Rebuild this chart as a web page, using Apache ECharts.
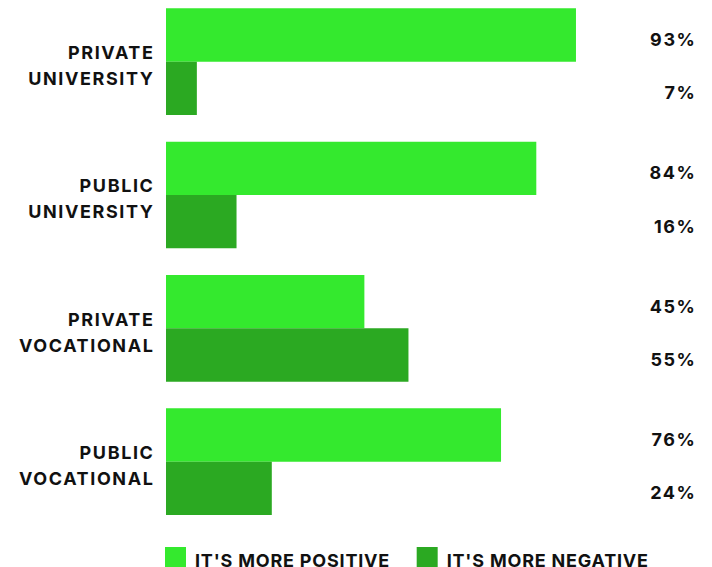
<!DOCTYPE html>
<html><head><meta charset="utf-8">
<script src="https://cdn.jsdelivr.net/npm/echarts@6/dist/echarts.min.js"></script>
<style>
html,body{margin:0;padding:0;background:#fff;overflow:hidden}
#c{width:712px;height:572px;margin-top:-5px}
#c text{letter-spacing:1.6px}
#c text[style*="sans-serif"], #c text[font-family*="sans-serif"]{letter-spacing:0.8px}
</style>
</head><body><div id="c"></div>
<script>
const categories = ['PRIVATE\nUNIVERSITY', 'PUBLIC\nUNIVERSITY', 'PRIVATE\nVOCATIONAL', 'PUBLIC\nVOCATIONAL'];
const positive = [93, 84, 45, 76];
const negative = [7, 16, 55, 24];
const seriesNames = ["IT'S MORE POSITIVE", "IT'S MORE NEGATIVE"];
const AXIS_MAX = 120;

const font = 'Inter';
const chart = echarts.init(document.getElementById('c'), null, { renderer: 'svg' });
function padSeries(vals, stack) {
  return {
    type: 'bar', stack: stack, silent: true,
    data: vals.map(v => ({ value: AXIS_MAX - v, raw: v })),
    itemStyle: { color: 'transparent' },
    label: {
      show: true, position: 'insideRight', distance: -1.5, offset: [0, 4.5],
      formatter: p => p.data.raw + '%',
      color: '#111', fontFamily: font, fontWeight: 700, fontSize: 18
    },
    barGap: '0%', barCategoryGap: '20%'
  };
}
chart.setOption({
  animation: false,
  grid: { left: 166, right: 17, top: 0, height: 533.33, containLabel: false },
  xAxis: { type: 'value', min: 0, max: AXIS_MAX, show: false },
  yAxis: {
    type: 'category', data: categories, inverse: true,
    axisLine: { show: false }, axisTick: { show: false },
    axisLabel: {
      color: '#111', fontFamily: font, fontWeight: 700, fontSize: 18, lineHeight: 26, margin: 11.5, align: 'right',
      formatter: v => '{s| }\n' + v,
      rich: { s: { lineHeight: 8, fontSize: 4 } }
    }
  },
  legend: {
    data: seriesNames, left: 165, top: 550, itemWidth: 21, itemHeight: 22, itemGap: 41, padding: 0,
    icon: 'rect',
    formatter: name => '{s| }\n' + name,
    textStyle: {
      color: '#111', fontFamily: 'Inter, sans-serif', fontWeight: 700, fontSize: 18, lineHeight: 22, padding: [0, 0, 0, 4],
      rich: { s: { lineHeight: 4, fontSize: 3 } }
    }
  },
  series: [
    { name: seriesNames[0], type: 'bar', stack: 'a', data: positive, itemStyle: { color: '#34E92E' }, barGap: '0%', barCategoryGap: '20%' },
    padSeries(positive, 'a'),
    { name: seriesNames[1], type: 'bar', stack: 'b', data: negative, itemStyle: { color: '#2BA922' }, barGap: '0%', barCategoryGap: '20%' },
    padSeries(negative, 'b')
  ]
});
</script></body></html>
